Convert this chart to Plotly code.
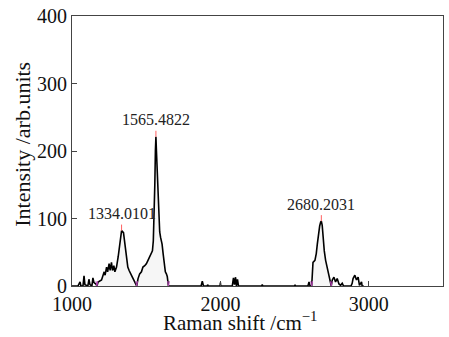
import plotly.graph_objects as go

# Raman spectrum (Raman shift in cm^-1, intensity in arb. units)
shift = [1000, 1040, 1054, 1060, 1074, 1081, 1087, 1107, 1114, 1121, 1134, 1141, 1148, 1161, 1168,
         1176, 1199, 1210, 1217, 1223, 1233, 1240, 1250, 1257, 1266, 1273, 1282, 1289, 1300, 1311,
         1322, 1334, 1347, 1356, 1367, 1376, 1385, 1394, 1405, 1416, 1430, 1436,
         1445, 1456, 1468, 1478, 1490, 1501, 1512, 1523, 1535, 1542, 1548, 1553, 1558, 1562,
         1565.5, 1569, 1574, 1580, 1586, 1591, 1597, 1607, 1614, 1623, 1629, 1636, 1642, 1650,
         1870, 1878, 1886, 1912, 1914, 1918, 1998, 2000, 2002, 2080, 2088, 2095, 2102, 2108,
         2115, 2122, 2278, 2282, 2286, 2500, 2503, 2506, 2514, 2517, 2520, 2590, 2597, 2604,
         2615, 2619, 2624, 2637, 2646, 2653, 2660, 2669, 2676, 2680.2, 2686, 2691, 2700, 2709,
         2720, 2731, 2743, 2747, 2754, 2765, 2776, 2787, 2799, 2810, 2821, 2830, 2880, 2888,
         2894, 2906, 2917, 2928, 2937, 2951, 2955, 2966]
intensity = [0, 0, 6, 0, 0, 15, 2, 0, 10, 2, 0, 12, 5, 3, 0,
             6, 9, 16, 21, 16, 28, 21, 33, 23, 35, 23, 30, 21, 28, 43,
             62, 82, 79, 62, 43, 28, 23, 18, 14, 9, 4, 0,
             11, 18, 21, 28, 30, 33, 38, 43, 48, 52, 67, 96, 150, 200,
             221, 200, 168, 135, 100, 80, 72, 62, 48, 33, 21, 18, 14, 0,
             0, 7, 0, 0, 2, 0, 0, 5, 0, 0, 12, 2, 13, 0,
             10, 0, 0, 2, 0, 0, 2, 0, 0, 1, 0, 0, 6, 0,
             0, 28, 35, 38, 48, 62, 77, 89, 95, 96, 90, 72, 52, 38,
             28, 16, 4, 0, 9, 13, 6, 11, 3, 1, 4, 0, 0, 4,
             11, 16, 9, 13, 1, 6, 0, 0]

# fitted peaks
peak_pos = [1334.0101, 1565.4822, 2680.2031]
peak_val = [82, 221, 96]
peak_labels = ["1334.0101", "1565.4822", "2680.2031"]
# baseline limits of each fitted band
band_lo = [1168, 1436, 2615]
band_hi = [1436, 1650, 2747]

x_ticks = [1000, 2000, 3000]
y_ticks = [0, 100, 200, 300, 400]

FONT = "Liberation Serif, Times New Roman, serif"
fig = go.Figure()

# very light gray filled bands
for lo, hi in zip(band_lo, band_hi):
    xs = [x for x in shift if lo <= x <= hi]
    ys = [y for x, y in zip(shift, intensity) if lo <= x <= hi]
    fig.add_trace(go.Scatter(x=xs, y=ys, mode="lines", fill="tozeroy",
                             fillcolor="rgba(0,0,0,0.035)", line=dict(width=0),
                             hoverinfo="skip", showlegend=False))

fig.add_trace(go.Scatter(x=shift, y=intensity, mode="lines",
                         line=dict(color="black", width=1.6), showlegend=False))

# baseline markers (magenta) and peak markers (red)
for b in sorted(set(band_lo + band_hi)):
    fig.add_trace(go.Scatter(x=[b - 6, b, b + 6], y=[7, 0, 7], mode="lines",
                             line=dict(color="#b040b0", width=1), showlegend=False))
for px, pv in zip(peak_pos, peak_val):
    fig.add_trace(go.Scatter(x=[px, px], y=[pv, pv + 9], mode="lines",
                             line=dict(color="#ff6060", width=1), showlegend=False))

for px, pv, lab in zip(peak_pos, peak_val, peak_labels):
    fig.add_annotation(x=px, y=pv + 25, text=lab, showarrow=False,
                       font=dict(family=FONT, size=16, color="#222"),
                       xanchor="center", yanchor="middle")

# axis titles as annotations (positioned like the reference)
fig.add_annotation(xref="paper", yref="paper", x=0.454, y=-0.132,
                   text="Raman shift /cm<sup>−1</sup>", showarrow=False,
                   font=dict(family=FONT, size=21, color="#111"),
                   xanchor="center", yanchor="middle")
fig.add_annotation(xref="paper", yref="paper", x=-0.134, y=0.524,
                   text="Intensity /arb.units", showarrow=False, textangle=-90,
                   font=dict(family=FONT, size=22, color="#111"),
                   xanchor="center", yanchor="middle")

axis_common = dict(showline=True, linecolor="#444", linewidth=1, mirror=True,
                   ticks="inside", ticklen=5, tickcolor="#444", showgrid=False,
                   zeroline=False,
                   tickfont=dict(family=FONT, size=20, color="#111"))
fig.update_xaxes(range=[1000, 3500], tickmode="array", tickvals=x_ticks,
                 ticktext=[str(t) for t in x_ticks], **axis_common)
fig.update_yaxes(range=[0, 400], tickmode="array", tickvals=y_ticks,
                 ticktext=[str(t) for t in y_ticks], **axis_common)

fig.update_layout(width=449, height=337, margin=dict(l=72, r=5, t=11, b=51),
                  font=dict(family=FONT, size=20, color="#111"),
                  plot_bgcolor="white", paper_bgcolor="white")

fig.write_html("out.html")
